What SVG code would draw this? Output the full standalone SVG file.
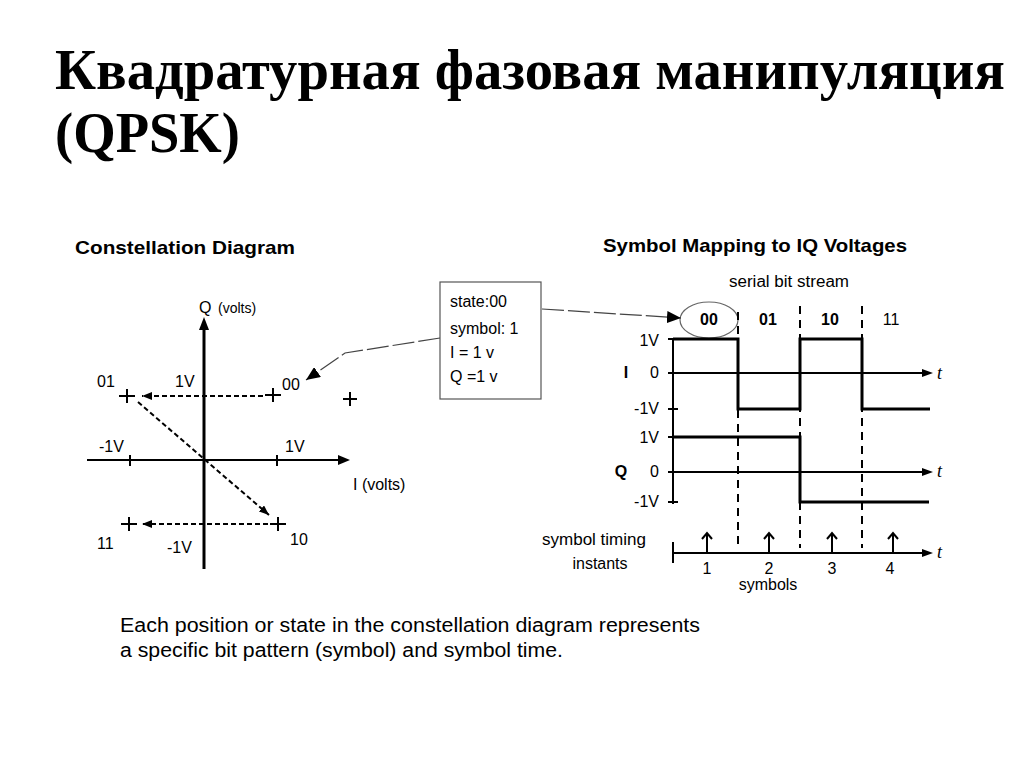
<svg xmlns="http://www.w3.org/2000/svg" width="1024" height="767" viewBox="0 0 1024 767">
<style>
.title{font-family:"Liberation Serif","Times New Roman",serif;font-weight:bold;font-size:56px;fill:#000}
.hdr{font-family:"Liberation Sans",Arial,sans-serif;font-weight:bold;font-size:19px;fill:#000}
.lbl{font-family:"Liberation Sans",Arial,sans-serif;font-size:16px;fill:#000}
.sm{font-family:"Liberation Sans",Arial,sans-serif;font-size:14px;fill:#000}
.body{font-family:"Liberation Sans",Arial,sans-serif;font-size:20px;fill:#000}
.it{font-family:"Liberation Serif","Times New Roman",serif;font-style:italic;font-size:18px;fill:#000}
.ax{stroke:#000;stroke-width:2;fill:none}
.thick{stroke:#000;stroke-width:3;fill:none}
.wave{stroke:#000;stroke-width:3;fill:none}
.dash{stroke:#000;stroke-width:2;stroke-dasharray:5 3;fill:none}
.vdash{stroke:#000;stroke-width:2;stroke-dasharray:8 6;fill:none}
.call{stroke:#444;stroke-width:1.2;stroke-dasharray:22 4;fill:none}
.pt{stroke:#000;stroke-width:2;fill:none}
</style>
<defs>
<marker id="ah" markerWidth="10" markerHeight="8" refX="10" refY="4" orient="auto" markerUnits="userSpaceOnUse"><path d="M0,0 L10,4 L0,8 z" fill="#000"/></marker>
<marker id="ahc" markerWidth="14" markerHeight="12" refX="14" refY="6" orient="auto" markerUnits="userSpaceOnUse"><path d="M0,0 L14,6 L0,12 z" fill="#000"/></marker>
</defs>

<g id="title">
<text class="title" x="55" y="89" textLength="950" lengthAdjust="spacingAndGlyphs">Квадратурная фазовая манипуляция</text>
<text class="title" x="55" y="152" textLength="185" lengthAdjust="spacingAndGlyphs">(QPSK)</text>
</g>

<g id="constellation">
<text class="hdr" x="75" y="254" textLength="220" lengthAdjust="spacingAndGlyphs">Constellation  Diagram</text>
<line class="thick" x1="204" y1="569" x2="204" y2="328"/>
<path d="M204,317 L199,330 L209,330 z" fill="#000"/>
<line class="ax" x1="87" y1="460" x2="340" y2="460"/>
<path d="M350,460 L338,455 L338,465 z" fill="#000"/>
<line class="ax" x1="130" y1="455" x2="130" y2="466"/>
<line class="ax" x1="277" y1="455" x2="277" y2="466"/>
<text class="lbl" x="199" y="313" font-size="17">Q</text>
<text class="sm" x="218" y="313">(volts)</text>
<text class="lbl" x="353" y="490">I (volts)</text>
<text class="lbl" x="97" y="387">01</text>
<text class="lbl" x="175" y="387">1V</text>
<text class="lbl" x="282" y="390">00</text>
<text class="lbl" x="99" y="452">-1V</text>
<text class="lbl" x="285" y="452">1V</text>
<text class="lbl" x="97" y="549">11</text>
<text class="lbl" x="167" y="553">-1V</text>
<text class="lbl" x="290" y="545">10</text>
</g>

<g id="points">
<path class="pt" d="M119,396 H135 M127,389 V403"/>
<path class="pt" d="M265,395 H281 M273,388 V402"/>
<path class="pt" d="M121,524 H137 M129,517 V531"/>
<path class="pt" d="M270,524 H286 M278,517 V531"/>
<path class="pt" d="M343,399 H357 M350,392 V406"/>
</g>

<g id="callout-box">
<rect x="440" y="282" width="101" height="117" fill="#fff" stroke="#555" stroke-width="1.2"/>
<text class="lbl" x="450" y="307">state:00</text>
<text class="lbl" x="450" y="334">symbol: 1</text>
<text class="lbl" x="450" y="358">I = 1 v</text>
<text class="lbl" x="450" y="382">Q =1 v</text>
</g>

<g id="timing">
<text class="hdr" x="603" y="252" textLength="304" lengthAdjust="spacingAndGlyphs">Symbol Mapping to IQ Voltages</text>
<text class="lbl" x="729" y="287" textLength="120" lengthAdjust="spacingAndGlyphs">serial bit stream</text>
<ellipse cx="709" cy="320" rx="29" ry="18" fill="none" stroke="#666" stroke-width="1.2"/>
<text class="lbl" x="709" y="325" text-anchor="middle" font-weight="bold">00</text>
<text class="lbl" x="768" y="325" text-anchor="middle" font-weight="bold">01</text>
<text class="lbl" x="830" y="325" text-anchor="middle" font-weight="bold">10</text>
<text class="lbl" x="891" y="325" text-anchor="middle">11</text>

<line class="ax" x1="673" y1="339" x2="673" y2="504"/>
<path class="ax" d="M668,339 H678 M668,373 H678 M668,409 H678 M668,437 H678 M668,472 H678 M668,502 H678"/>
<line class="ax" x1="673" y1="373" x2="924" y2="373"/>
<path d="M933,373 L922,369 L922,377 z" fill="#000"/>
<line class="ax" x1="673" y1="472" x2="924" y2="472"/>
<path d="M933,472 L922,468 L922,476 z" fill="#000"/>

<text class="lbl" x="659" y="346" text-anchor="end">1V</text>
<text class="lbl" x="659" y="378" text-anchor="end">0</text>
<text class="lbl" x="659" y="414" text-anchor="end">-1V</text>
<text class="lbl" x="626" y="378" text-anchor="middle" font-weight="bold">I</text>
<text class="lbl" x="659" y="443" text-anchor="end">1V</text>
<text class="lbl" x="659" y="477" text-anchor="end">0</text>
<text class="lbl" x="659" y="507" text-anchor="end">-1V</text>
<text class="lbl" x="621" y="477" text-anchor="middle" font-weight="bold">Q</text>
<text class="it" x="937" y="379">t</text>
<text class="it" x="937" y="477">t</text>
<text class="it" x="937" y="558">t</text>

<path class="wave" d="M673,339 H738 V409 H800 V339 H862 V409 H930"/>
<path class="wave" d="M673,437 H800 V502 H929"/>

<line class="vdash" x1="738" y1="312" x2="738" y2="548"/>
<line class="vdash" x1="800" y1="306" x2="800" y2="548"/>
<line class="vdash" x1="862" y1="306" x2="862" y2="548"/>

<line class="ax" x1="673" y1="553" x2="924" y2="553"/>
<path d="M933,553 L922,549 L922,557 z" fill="#000"/>
<line class="ax" x1="673" y1="542" x2="673" y2="563"/>
<path class="ax" d="M707,553 V533 M702,539 L707,533 L712,539"/>
<path class="ax" d="M769,553 V533 M764,539 L769,533 L774,539"/>
<path class="ax" d="M832,553 V533 M827,539 L832,533 L837,539"/>
<path class="ax" d="M893,553 V533 M888,539 L893,533 L898,539"/>
<text class="lbl" x="707" y="574" text-anchor="middle">1</text>
<text class="lbl" x="769" y="574" text-anchor="middle">2</text>
<text class="lbl" x="832" y="574" text-anchor="middle">3</text>
<text class="lbl" x="890" y="574" text-anchor="middle">4</text>
<text class="lbl" x="768" y="590" text-anchor="middle">symbols</text>
<text class="lbl" x="594" y="545" text-anchor="middle" textLength="104" lengthAdjust="spacingAndGlyphs">symbol timing</text>
<text class="lbl" x="600" y="569" text-anchor="middle">instants</text>
</g>

<g id="connectors">
<line class="dash" x1="263" y1="396" x2="142" y2="396" marker-end="url(#ah)"/>
<line class="dash" x1="138" y1="402" x2="269" y2="515" marker-end="url(#ah)"/>
<line class="dash" x1="268" y1="524" x2="142" y2="524" marker-end="url(#ah)"/>
<polyline class="call" points="440,338 345,353 306,380" marker-end="url(#ahc)"/>
<line class="call" x1="542" y1="309" x2="681" y2="318" marker-end="url(#ahc)"/>
</g>

<g id="caption">
<text class="body" x="120" y="632" textLength="580" lengthAdjust="spacingAndGlyphs">Each position or state in the constellation diagram represents</text>
<text class="body" x="120" y="657" textLength="443" lengthAdjust="spacingAndGlyphs">a specific bit pattern (symbol) and symbol time.</text>
</g>
</svg>
